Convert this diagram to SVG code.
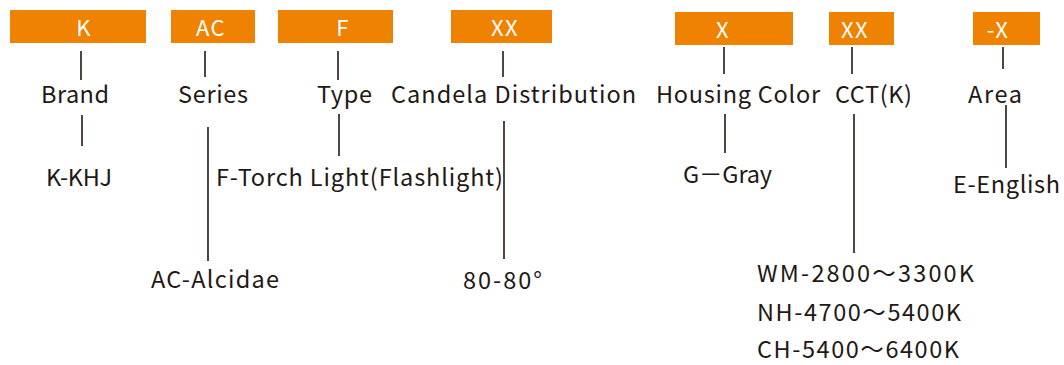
<svg xmlns="http://www.w3.org/2000/svg" width="1064" height="365" viewBox="0 0 1064 365">
<style>
.box{fill:#ef8200}
.bt{fill:#ffffff;font-family:"Noto Sans CJK SC","Noto Sans",sans-serif;font-size:22px;letter-spacing:1.5px}
.t{fill:#231815;font-family:"Noto Sans CJK SC","Noto Sans",sans-serif;font-size:23.5px}
.ln{stroke:#231815;stroke-width:1.6;fill:none}
</style>
<rect width="1064" height="365" fill="#ffffff"/>
<g id="node-brand">
<rect class="box" x="10" y="10" width="136" height="33"/>
<text class="bt" x="84" y="36" text-anchor="middle">K</text>
<text class="t" x="41" y="103" textLength="68" lengthAdjust="spacing">Brand</text>
<text class="t" x="46" y="186" textLength="66" lengthAdjust="spacing">K-KHJ</text>
</g>
<g id="node-series">
<rect class="box" x="171" y="10" width="84" height="33"/>
<text class="bt" x="211" y="36" text-anchor="middle">AC</text>
<text class="t" x="178" y="103" textLength="70" lengthAdjust="spacing">Series</text>
<text class="t" x="151" y="288" textLength="128" lengthAdjust="spacing">AC-Alcidae</text>
</g>
<g id="node-type">
<rect class="box" x="278" y="10" width="115" height="33"/>
<text class="bt" x="343" y="36" text-anchor="middle">F</text>
<text class="t" x="317" y="103" textLength="55" lengthAdjust="spacing">Type</text>
<text class="t" x="216" y="186" textLength="287" lengthAdjust="spacing">F-Torch Light(Flashlight)</text>
</g>
<g id="node-candela">
<rect class="box" x="451" y="10" width="101" height="33"/>
<text class="bt" x="505" y="36" text-anchor="middle">XX</text>
<text class="t" x="391" y="103" textLength="245" lengthAdjust="spacing">Candela Distribution</text>
<text class="t" x="463" y="289" textLength="79" lengthAdjust="spacing">80-80°</text>
</g>
<g id="node-housing">
<rect class="box" x="675" y="12" width="118" height="33"/>
<text class="bt" x="723" y="38" text-anchor="middle">X</text>
<text class="t" x="656" y="103" textLength="164" lengthAdjust="spacing">Housing Color</text>
<text class="t" x="683" y="183" textLength="89" lengthAdjust="spacing">G－Gray</text>
</g>
<g id="node-cct">
<rect class="box" x="829" y="12" width="65" height="33"/>
<text class="bt" x="855" y="38" text-anchor="middle">XX</text>
<text class="t" x="835" y="103" textLength="77" lengthAdjust="spacing">CCT(K)</text>
<text class="t" x="757" y="282" textLength="217" lengthAdjust="spacing">WM-2800～3300K</text>
<text class="t" x="757" y="321" textLength="204" lengthAdjust="spacing">NH-4700～5400K</text>
<text class="t" x="757" y="358" textLength="202" lengthAdjust="spacing">CH-5400～6400K</text>
</g>
<g id="node-area">
<rect class="box" x="973" y="12" width="67" height="33"/>
<text class="bt" x="998" y="38" text-anchor="middle">-X</text>
<text class="t" x="968" y="103" textLength="54" lengthAdjust="spacing">Area</text>
<text class="t" x="953" y="193" textLength="107" lengthAdjust="spacing">E-English</text>
</g>
<g id="connectors">
<line class="ln" x1="81" y1="51" x2="81" y2="80"/>
<line class="ln" x1="82" y1="115" x2="82" y2="146"/>
<line class="ln" x1="205" y1="51" x2="205" y2="77"/>
<line class="ln" x1="208" y1="127" x2="208" y2="261"/>
<line class="ln" x1="338" y1="51" x2="338" y2="80"/>
<line class="ln" x1="339" y1="114" x2="339" y2="156"/>
<line class="ln" x1="503" y1="51" x2="503" y2="77"/>
<line class="ln" x1="504" y1="121" x2="504" y2="259"/>
<line class="ln" x1="724" y1="47" x2="724" y2="74"/>
<line class="ln" x1="725" y1="114" x2="725" y2="153"/>
<line class="ln" x1="852" y1="47" x2="852" y2="74"/>
<line class="ln" x1="854" y1="114" x2="854" y2="253"/>
<line class="ln" x1="1003" y1="47" x2="1003" y2="69"/>
<line class="ln" x1="1006" y1="105" x2="1006" y2="168"/>
</g>
</svg>
